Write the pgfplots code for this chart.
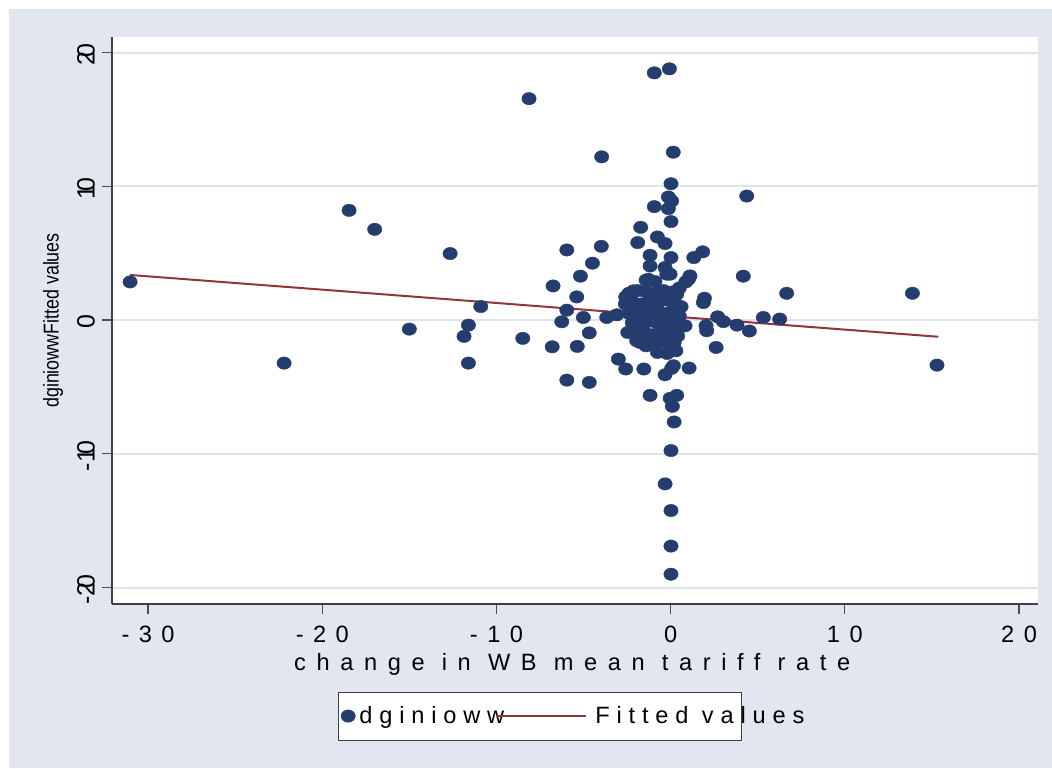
\documentclass[border=0pt]{standalone}
\usepackage{fontspec}
\setmainfont{Liberation Sans}
\newfontfamily\tickfont[LetterSpace=40]{Liberation Sans}
\newfontfamily\labfont[LetterSpace=45]{Liberation Sans}
\newfontfamily\legfont[LetterSpace=29]{Liberation Sans}
\usepackage{graphicx}
\usepackage{pgfplots}
\pgfplotsset{compat=1.18}

\definecolor{bgcol}{RGB}{225,230,240}
\definecolor{gridcol}{RGB}{222,227,238}
\definecolor{navy}{RGB}{37,61,110}
\definecolor{maroon}{RGB}{144,53,59}

\pgfplotsset{
  dotlegend/.style={legend image code/.code={\draw[##1] plot coordinates {(4pt,0pt)};}},
  linelegend/.style={legend image code/.code={\draw[##1] (0pt,0pt) -- (45pt,0pt);}},
}

\begin{document}
\begin{tikzpicture}
\fill[white] (0,0) rectangle (526pt,384pt);
\fill[bgcol] (4.5pt,0) rectangle (526pt,379.5pt);
\begin{axis}[
  at={(56pt,82pt)}, anchor=south west,
  scale only axis, width=463pt, height=283.5pt,
  xmin=-32.07, xmax=21.09, ymin=-21.23, ymax=21.16,
  axis background/.style={fill=white},
  axis lines=left,
  axis line style={-, draw=black!75, line width=0.7pt},
  tick style={draw=black!70, line width=0.6pt},
  tick align=outside, major tick length=5pt,
  xtick={-30,-20,-10,0,10,20},
  xticklabels={-30,-20,-10,0,10,20},
  xticklabel style={font=\tickfont\fontsize{11.8}{14}\selectfont, anchor=north, yshift=-2.5pt},
  ytick={-20,-10,0,10,20},
  yticklabels={-2\kern-.22em0,-1\kern-.22em0,0,1\kern-.22em0,2\kern-.22em0},
  yticklabel style={font=\fontsize{12.5}{14}\selectfont, rotate=90, anchor=south, xshift=-1pt},
  ymajorgrids, major grid style={draw=gridcol, line width=1pt},
  xlabel={change in WB mean tariff rate},
  xlabel style={font=\labfont\fontsize{11.8}{14}\selectfont, at={(axis description cs:0.497,-0.1164)}, anchor=base},
  ylabel={\scalebox{0.83}[1]{dginiowwFitted values}},
  ylabel style={font=\fontsize{10.75}{12}\selectfont, at={(axis description cs:-0.0637,0.5)}, anchor=center},
  legend columns=2,
  legend style={at={(axis description cs:0.2451,-0.1552)}, anchor=north west,
    draw=black!75, line width=0.5pt, fill=white, outer sep=0pt,
    inner xsep=1pt, inner ysep=5pt,
    font=\legfont\fontsize{11.8}{14}\selectfont},
  legend cell align=left,
  clip=false,
]
\addplot[navy, only marks, mark=*, mark size=3.1pt,
  mark options={fill=navy, draw=navy, line width=0.2pt, xscale=1.16}, dotlegend]
  coordinates {
  (-31.03,2.85) (-22.19,-3.22) (-18.46,8.20) (-16.99,6.78) (-15.00,-0.68)
  (-12.66,4.97) (-11.61,-0.38) (-11.86,-1.22) (-11.61,-3.22) (-10.90,1.01)
  (-8.49,-1.37) (-8.13,16.55) (-6.75,2.55) (-6.80,-2.00) (-5.96,5.24)
  (-5.96,0.74) (-6.25,-0.13) (-5.96,-4.49) (-5.39,1.73) (-5.18,3.28)
  (-5.36,-1.97) (-5.01,0.19) (-4.67,-0.96) (-4.67,-4.66) (-4.49,4.25)
  (-3.98,5.51) (-3.96,12.20) (-3.67,0.19) (-3.09,0.39) (-3.00,-2.92)
  (-2.58,-3.66) (-2.58,1.73) (-2.46,-0.93) (-2.14,2.18) (-1.95,-1.55)
  (-1.89,5.79) (-1.72,6.93) (-1.54,-3.66) (-1.41,-1.93) (-1.41,2.98)
  (-1.28,3.05) (-1.18,4.84) (-1.18,4.04) (-1.18,-5.63) (-0.94,18.48)
  (-0.94,8.48) (-0.90,2.88) (-0.76,6.21) (-0.76,-2.42) (-0.32,5.72)
  (-0.32,3.93) (-0.32,-4.09) (-0.32,-12.25) (-0.22,3.43) (-0.13,9.20)
  (-0.13,8.33) (-0.07,18.78) (0.02,10.19) (0.06,8.90) (0.02,7.36)
  (0.02,4.67) (-0.03,3.43) (0.02,-2.00) (0.06,-3.61) (0.16,-3.42)
  (-0.03,-5.85) (0.35,-5.63) (0.10,-6.45) (0.20,-7.62) (0.02,-9.76)
  (0.02,-14.24) (0.02,-16.90) (0.02,-19.00) (0.15,12.55) (0.35,1.93)
  (0.83,-0.43) (0.87,2.85) (1.02,3.05) (1.06,-3.59) (1.11,3.30)
  (1.33,4.67) (1.84,5.10) (1.88,1.31) (1.94,1.63) (2.03,-0.43)
  (2.07,-0.80) (2.61,-2.05) (2.70,0.24) (3.03,-0.12) (3.81,-0.38)
  (4.17,3.28) (4.37,9.27) (4.52,-0.82) (5.32,0.19) (6.26,0.07)
  (6.66,2.00) (13.88,2.00) (15.29,-3.37) (-1.76,-1.67)
  (-2.4,2.0) (-1.9,2.2) (-1.4,2.1) (-0.9,2.0) (-0.4,2.2) (0.1,2.1) (0.5,2.4)
  (-2.6,1.2) (-2.2,1.4) (-1.7,1.2) (-1.2,1.5) (-0.7,1.3) (-0.2,1.5) (0.3,1.2) (0.6,1.0)
  (-2.4,0.5) (-2.0,0.6) (-1.5,0.4) (-1.0,0.7) (-0.5,0.5) (0.0,0.6) (0.5,0.3)
  (-2.2,-0.2) (-1.8,-0.3) (-1.3,-0.1) (-0.8,-0.2) (-0.3,-0.3) (0.2,-0.1) (0.6,-0.5)
  (-2.0,-1.0) (-1.5,-0.9) (-1.0,-1.1) (-0.5,-1.0) (0.0,-0.9) (0.4,-1.2)
  (-1.6,-1.6) (-1.0,-1.8) (-0.4,-1.6) (0.2,-1.7) (-0.2,-2.5) (0.3,-2.3)
  };
\addlegendentry{\makebox[66pt][l]{dginioww}}
\addplot[maroon, line width=1pt, no marks, linelegend]
  coordinates {(-31.03,3.37) (15.37,-1.25)};
\addlegendentry{\kern2pt\makebox[70pt][l]{Fitted values}}
\end{axis}
\pgfresetboundingbox
\useasboundingbox (0,0) rectangle (526pt,384pt);
\end{tikzpicture}
\end{document}
